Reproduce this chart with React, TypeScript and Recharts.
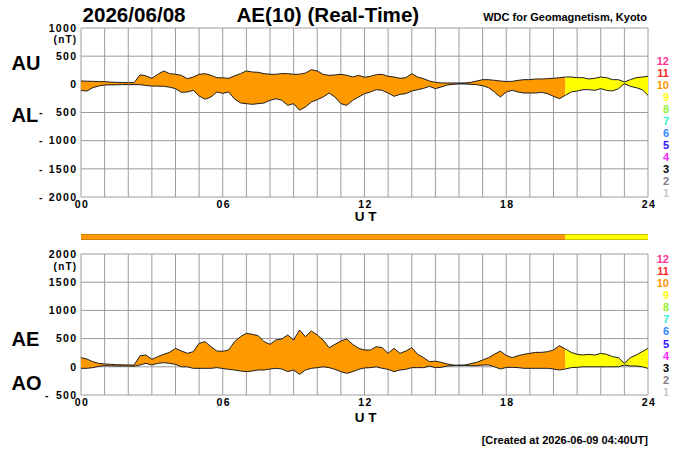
import { ComposedChart, Area, Line, XAxis, YAxis, CartesianGrid } from 'recharts'

// 15-minute samples, UT hours
const TIME = [
    0, 0.25, 0.5, 0.75, 1, 1.25, 1.5, 1.75,
    2, 2.25, 2.5, 2.75, 3, 3.25, 3.5, 3.75,
    4, 4.25, 4.5, 4.75, 5, 5.25, 5.5, 5.75,
    6, 6.25, 6.5, 6.75, 7, 7.25, 7.5, 7.75,
    8, 8.25, 8.5, 8.75, 9, 9.25, 9.5, 9.75,
    10, 10.25, 10.5, 10.75, 11, 11.25, 11.5, 11.75,
    12, 12.25, 12.5, 12.75, 13, 13.25, 13.5, 13.75,
    14, 14.25, 14.5, 14.75, 15, 15.25, 15.5, 15.75,
    16, 16.25, 16.5, 16.75, 17, 17.25, 17.5, 17.75,
    18, 18.25, 18.5, 18.75, 19, 19.25, 19.5, 19.75,
    20, 20.25, 20.5, 20.75, 21, 21.25, 21.5, 21.75,
    22, 22.25, 22.5, 22.75, 23, 23.25, 23.5, 23.75,
    24
]

const AU = [
    59, 56, 53, 50, 47, 40, 35, 32,
    30, 30, 170, 150, 107, 178, 237, 190,
    178, 160, 100, 130, 178, 190, 160, 118,
    115, 107, 150, 190, 237, 219, 213, 190,
    178, 178, 190, 190, 178, 180, 201, 260,
    237, 178, 160, 166, 178, 160, 130, 160,
    125, 142, 172, 178, 142, 130, 107, 118,
    190, 130, 100, 59, 35, 24, 24, 24,
    24, 24, 35, 59, 83, 83, 71, 59,
    50, 53, 71, 83, 83, 95, 95, 100,
    107, 118, 130, 130, 118, 118, 95, 107,
    130, 118, 83, 83, 41, 83, 118, 130,
    142
]

const AL = [
    -107, -120, -59, -30, -12, -10, -8, -5,
    -5, -5, -6, -20, -30, -32, -36, -50,
    -77, -142, -136, -107, -207, -266, -225, -136,
    -160, -136, -260, -330, -343, -355, -343, -331,
    -284, -255, -284, -373, -343, -460, -402, -314,
    -272, -225, -154, -225, -343, -373, -284, -225,
    -166, -136, -95, -107, -154, -213, -178, -166,
    -118, -95, -71, -36, -77, -47, -12, 0,
    12, 12, 0, -6, -24, -59, -136, -225,
    -136, -107, -136, -154, -154, -154, -142, -166,
    -213, -255, -195, -136, -118, -95, -95, -107,
    -77, -107, -118, -77, 12, -36, -59, -95,
    -195
]

const AE = [
    162, 138, 91, 61, 50, 44, 38, 35,
    32, 32, 197, 209, 132, 180, 221, 256,
    327, 280, 239, 268, 416, 446, 357, 280,
    275, 298, 446, 534, 593, 576, 552, 446,
    398, 475, 493, 564, 475, 652, 534, 635,
    564, 475, 339, 398, 457, 493, 398, 327,
    298, 298, 357, 339, 239, 327, 239, 280,
    339, 221, 162, 91, 100, 79, 50, 32,
    20, 32, 56, 79, 120, 162, 221, 280,
    200, 162, 197, 221, 239, 256, 256, 268,
    298, 375, 316, 256, 221, 209, 221, 209,
    239, 221, 180, 162, 61, 162, 209, 268,
    327
]

const AO = [
    -27, -27, -15, 8, 20, 17, 14, 14,
    14, 10, 32, 61, 32, 61, 73, 61,
    44, 0, 0, -27, -27, -27, -27, -15,
    -30, -45, -57, -74, -86, -74, -57, -57,
    -39, -27, -39, -86, -57, -134, -57, -27,
    -15, 0, -15, -45, -86, -116, -86, -45,
    -20, -15, 0, -27, -45, -86, -57, -45,
    -15, -15, -15, 14, -15, -9, 14, 20,
    32, 26, 20, 20, 32, 32, 0, -39,
    -12, -9, -15, -27, -27, -27, -27, -27,
    -39, -57, -39, -15, -9, 0, 0, 0,
    0, 0, 0, 0, 32, 14, 14, 0,
    -27
]

// number of contributing stations over the day
const STATION_SEGMENTS = [
    { from: 0, to: 20.5, stations: 10 },
    { from: 20.5, to: 24, stations: 9 },
]

const STATION_COLORS: { [key: number]: string } = {
    12: '#FF3399', 11: '#FF2828', 10: '#FF9900', 9: '#FFFF00',
    8: '#99F030', 7: '#30F0D0', 6: '#3388FF', 5: '#3311FF',
    4: '#FF22FF', 3: '#000000', 2: '#808080', 1: '#C8C8C8',
}
const LEGEND_COUNTS = [12, 11, 10, 9, 8, 7, 6, 5, 4, 3, 2, 1]

const X_GRID_HOURS = [0, 1, 2, 3, 4, 5, 6, 7, 8, 9, 10, 11, 12, 13, 14, 15, 16, 17, 18, 19, 20, 21, 22, 23, 24]
const X_LABEL_HOURS = [0, 6, 12, 18, 24]
const X_LABEL_TEXT = ['00', '06', '12', '18', '24']
const TOP_Y_TICKS = [-2000, -1500, -1000, -500, 0, 500, 1000]
const BOTTOM_Y_TICKS = [-500, 0, 500, 1000, 1500, 2000]

const FONT = '"Liberation Sans", Arial, Helvetica, sans-serif'
const GRID = '#9c9c9c'
const INK = '#1e1e1e'

const rows = TIME.map((t, i) => {
    const row: { [key: string]: any } = { t, au: AU[i], al: AL[i], ae: AE[i], ao: AO[i] }
    STATION_SEGMENTS.forEach((s, k) => {
        const inside = t >= s.from && t <= s.to
        row[`top${k}`] = inside ? [AL[i], AU[i]] : null
        row[`bot${k}`] = inside ? [AO[i], AE[i]] : null
        row[`bar${k}`] = inside ? [0, 1] : null
    })
    return row
})

const tickText = { fontFamily: FONT, fontWeight: 700, fontSize: 10.5, letterSpacing: 1.3, fill: '#000' }

function XTick(props: any) {
    const { x, y, payload } = props
    const idx = X_LABEL_HOURS.indexOf(payload.value)
    if (idx < 0) return <g />
    return (
        <text x={x + 1} y={y + 10.5} textAnchor="middle" style={tickText}>
            {X_LABEL_TEXT[idx]}
        </text>
    )
}

function YTick(props: any) {
    const { x, y, payload, dashX, unitValue, unitGap } = props
    const v = payload.value
    return (
        <g>
            {v < 0 && (
                <text x={dashX} y={y + 3.7} textAnchor="middle" style={tickText}>-</text>
            )}
            <text x={x - 3.7} y={y + 3.7} textAnchor="end" style={tickText}>{Math.abs(v)}</text>
            {v === unitValue && (
                <text x={x - 3.7} y={y + unitGap} textAnchor="end" style={{ ...tickText, fontSize: 10, letterSpacing: 1.2 }}>(nT)</text>
            )}
        </g>
    )
}

function Panel({ yDomain, yTicks, dashX, unitGap, bandKey, upper, lower, height, margin }: any) {
    return (
        <ComposedChart width={700} height={height} data={rows} margin={margin}>
            <CartesianGrid stroke={GRID} strokeWidth={1} />
            <XAxis
                dataKey="t"
                type="number"
                domain={[0, 24]}
                ticks={X_GRID_HOURS}
                interval={0}
                axisLine={false}
                tickLine={false}
                tickSize={0}
                tickMargin={0}
                height={33}
                tick={(p: any) => <XTick {...p} />}
            />
            <YAxis
                type="number"
                domain={yDomain}
                ticks={yTicks}
                interval={0}
                axisLine={false}
                tickLine={false}
                tickSize={0}
                tickMargin={0}
                width={81}
                tick={(p: any) => <YTick {...p} dashX={dashX} unitValue={yDomain[1]} unitGap={unitGap} />}
            />
            {STATION_SEGMENTS.map((s, k) => (
                <Area
                    key={`${bandKey}${k}`}
                    dataKey={`${bandKey}${k}`}
                    type="linear"
                    fill={STATION_COLORS[s.stations]}
                    fillOpacity={1}
                    stroke="none"
                    activeDot={false}
                    isAnimationActive={false}
                />
            ))}
            <Line dataKey={upper} type="linear" stroke={INK} strokeWidth={1} dot={false} activeDot={false} isAnimationActive={false} />
            <Line dataKey={lower} type="linear" stroke={INK} strokeWidth={1} dot={false} activeDot={false} isAnimationActive={false} />
        </ComposedChart>
    )
}

export default function App() {
    const big = { fontFamily: FONT, fontWeight: 700, fontSize: 20, fill: '#000' }
    const ut = { fontFamily: FONT, fontWeight: 700, fontSize: 13.5, fill: '#000' }
    const small = { fontFamily: FONT, fontWeight: 700, fontSize: 11, fill: '#000' }

    return (
        <div style={{ position: 'absolute', left: 0, top: 0, width: 700, height: 450, background: '#fff' }}>
            <div style={{ position: 'absolute', left: 0, top: 0 }}>
                <Panel
                    height={230}
                    margin={{ top: 28, right: 52, bottom: 0, left: 0 }}
                    yDomain={[-2000, 1000]}
                    yTicks={TOP_Y_TICKS}
                    dashX={41.5}
                    unitGap={14.5}
                    bandKey="top"
                    upper="au"
                    lower="al"
                />
            </div>

            <div style={{ position: 'absolute', left: 0, top: 234 }}>
                <ComposedChart width={700} height={6} data={rows} margin={{ top: 0, right: 52, bottom: 0, left: 81 }}>
                    <XAxis dataKey="t" type="number" domain={[0, 24]} hide />
                    <YAxis type="number" domain={[0, 1]} hide />
                    {STATION_SEGMENTS.map((s, k) => (
                        <Area
                            key={`bar${k}`}
                            dataKey={`bar${k}`}
                            type="linear"
                            fill={STATION_COLORS[s.stations]}
                            fillOpacity={1}
                            stroke="#7a5a10"
                            strokeWidth={0.7}
                            activeDot={false}
                            isAnimationActive={false}
                        />
                    ))}
                </ComposedChart>
            </div>

            <div style={{ position: 'absolute', left: 0, top: 230 }}>
                <Panel
                    height={220}
                    margin={{ top: 24, right: 52, bottom: 22, left: 0 }}
                    yDomain={[-500, 2000]}
                    yTicks={BOTTOM_Y_TICKS}
                    dashX={47.5}
                    unitGap={15.5}
                    bandKey="bot"
                    upper="ae"
                    lower="ao"
                />
            </div>

            <svg width={700} height={450} style={{ position: 'absolute', left: 0, top: 0, pointerEvents: 'none' }}>
                <text x={82.5} y={21.7} style={{ ...big, fontSize: 20.6 }}>2026/06/08</text>
                <text x={236.5} y={21.7} style={{ ...big, fontSize: 20.6 }}>AE(10) (Real-Time)</text>
                <text x={647} y={20.5} textAnchor="end" style={small}>WDC for Geomagnetism, Kyoto</text>

                <text x={11.5} y={70} style={big}>AU</text>
                <text x={11.5} y={121.7} style={big}>AL</text>
                <text x={11.5} y={346} style={big}>AE</text>
                <text x={11.5} y={389.5} style={big}>AO</text>

                <text x={365.5} y={220.5} textAnchor="middle" style={ut}>U T</text>
                <text x={365.5} y={421.5} textAnchor="middle" style={ut}>U T</text>

                {LEGEND_COUNTS.map((n, i) => (
                    <text key={`lt${n}`} x={669} y={65 + i * 12} textAnchor="end" style={{ ...small, fill: STATION_COLORS[n] }}>{n}</text>
                ))}
                {LEGEND_COUNTS.map((n, i) => (
                    <text key={`lb${n}`} x={669} y={262.7 + i * 12.12} textAnchor="end" style={{ ...small, fill: STATION_COLORS[n] }}>{n}</text>
                ))}

                <text x={648} y={444} textAnchor="end" style={small}>[Created at 2026-06-09 04:40UT]</text>
            </svg>
        </div>
    )
}
